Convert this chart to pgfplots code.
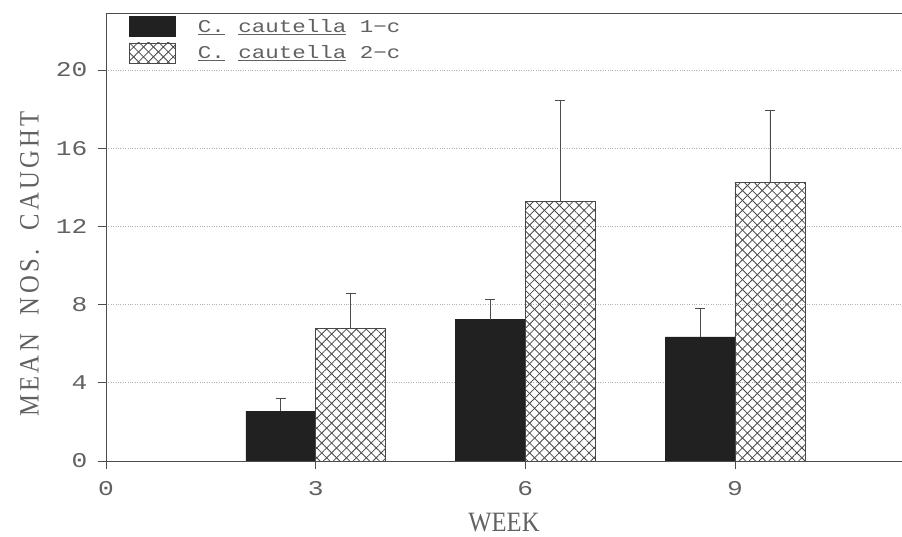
\documentclass[border=0pt]{standalone}
\usepackage{fontspec}
\setmainfont{Liberation Serif}
\newfontfamily\monofont[FakeStretch=1.25]{Liberation Mono}
\newfontfamily\labfont[FakeStretch=0.88]{Liberation Serif}
\newfontfamily\ylabfont[FakeStretch=0.88,LetterSpace=12]{Liberation Serif}
\usepackage{pgfplots}
\pgfplotsset{compat=1.18}
\usetikzlibrary{patterns.meta}
\definecolor{txt}{gray}{0.38}
\definecolor{axc}{gray}{0.3}
\definecolor{barblack}{gray}{0.13}
\definecolor{hatchc}{gray}{0.28}
\begin{document}
\begin{tikzpicture}
\begin{axis}[
  scale only axis,
  width=796pt, height=448pt,
  xmin=0, xmax=11.39,
  ymin=0, ymax=22.92,
  xtick={0,3,6,9},
  ytick={0,4,8,12,16,20},
  tick align=outside,
  major tick length=8pt,
  tick style={axc, line width=0.7pt},
  xtick pos=bottom, ytick pos=left,
  axis line style={axc, line width=0.8pt},
  ymajorgrids,
  grid style={dotted, gray!60, line width=0.8pt},
  /pgf/number format/assume math mode=true,
  tick label style={font=\monofont\fontsize{21}{21}\selectfont, text=txt},
  xticklabel style={yshift=-9pt},
  yticklabel style={xshift=-7pt},
  xlabel={WEEK},
  ylabel={\ylabfont MEAN\ \ NOS.\ \ CAUGHT},
  label style={font=\labfont\fontsize{28}{28}\selectfont, text=txt},
  xlabel style={at={(axis description cs:0.5,-0.1384)}, anchor=center},
  ylabel style={at={(axis description cs:-0.096,0.44)}, anchor=center},
  bar width=1,
  ybar, bar shift=0pt,
  legend cell align=left,
  legend image code/.code={\draw[#1] (0pt,-10pt) rectangle (46pt,10pt); \path (66pt,0pt);},
  legend style={at={(axis description cs:0,1)}, anchor=north west,
    xshift=21pt, yshift=-1pt, draw=none, fill=none,
    font=\monofont\fontsize{18}{18}\selectfont, text=txt,
    row sep=6pt, inner sep=2pt},
  error bars/y dir=plus,
  error bars/y explicit,
  error bars/error mark options={rotate=90, mark size=5pt, axc, line width=0.7pt},
  error bars/error bar style={axc, line width=0.7pt},
]
\addplot[fill=barblack, draw=barblack] coordinates {
  (2.5,2.55) +- (0,0.65)
  (5.5,7.23) +- (0,1.03)
  (8.5,6.35) +- (0,1.44)
};
\addlegendentry{\underline{C.} \underline{cautella} 1−c}
\addplot[fill=white, draw=hatchc, line width=0.7pt,
  pattern={Lines[angle=45,distance=7pt,line width=0.8pt]}, pattern color=hatchc,
  postaction={pattern={Lines[angle=-45,distance=7pt,line width=0.8pt]}, pattern color=hatchc}] coordinates {
  (3.5,6.77) +- (0,1.80)
  (6.5,13.27) +- (0,5.17)
  (9.5,14.25) +- (0,3.67)
};
\addlegendentry{\underline{C.} \underline{cautella} 2−c}
\end{axis}
\pgfresetboundingbox
\path ([shift={(-106pt,-76pt)}]current axis.south west) rectangle ([shift={(0pt,13pt)}]current axis.north east);
\end{tikzpicture}
\end{document}
